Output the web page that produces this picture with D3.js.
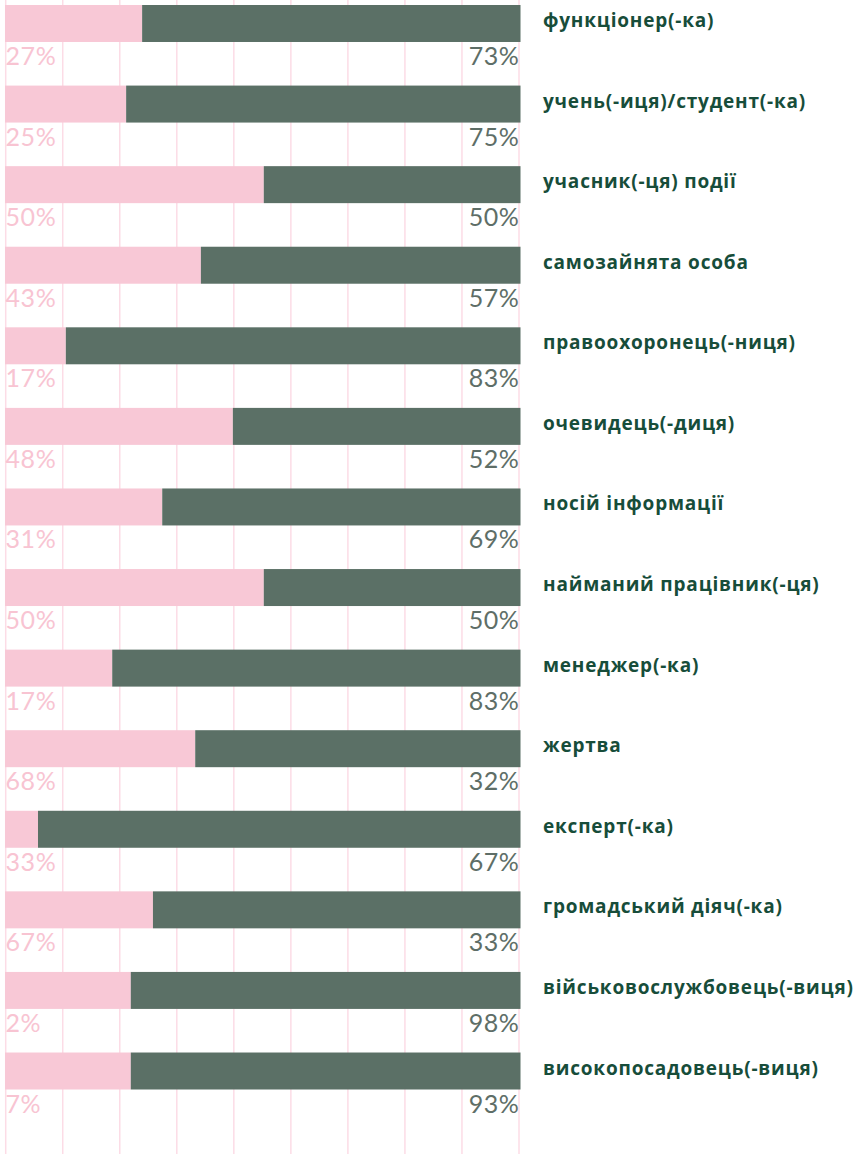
<!DOCTYPE html>
<html>
<head>
<meta charset="utf-8">
<script src="https://cdn.jsdelivr.net/npm/d3@7"></script>
<style>
  html, body { margin: 0; padding: 0; background: #fff; }
  svg { display: block; }
</style>
</head>
<body>
<div id="chart"></div>
<script>
// categories, top to bottom
const categories = [
  "функціонер(-ка)",
  "учень(-иця)/студент(-ка)",
  "учасник(-ця) події",
  "самозайнята особа",
  "правоохоронець(-ниця)",
  "очевидець(-диця)",
  "носій інформації",
  "найманий працівник(-ця)",
  "менеджер(-ка)",
  "жертва",
  "експерт(-ка)",
  "громадський діяч(-ка)",
  "військовослужбовець(-виця)",
  "високопосадовець(-виця)"
];
// pink share of each bar as drawn (percent)
const pinkBar   = [26.6, 23.5, 50.2, 38.0, 11.8, 44.2, 30.5, 50.2, 20.8, 36.9, 6.4, 28.7, 24.4, 24.4];
// labels printed under the bars
const pinkLabels  = ["27%", "25%", "50%", "43%", "17%", "48%", "31%", "50%", "17%", "68%", "33%", "67%", "2%", "7%"];
const greenLabels = ["73%", "75%", "50%", "57%", "83%", "52%", "69%", "50%", "83%", "32%", "67%", "33%", "98%", "93%"];
const gridTicks = d3.range(0, 10);

const width  = 860;
const height = 1154;
const pink   = "#f8c8d6";
const green  = "#5b7066";

const x = d3.scaleLinear().domain([0, 100]).range([5, 520.5]);
const xGrid = d3.scaleLinear().domain([0, 9]).range([5.7, 519]);
const y = d3.scaleBand()
  .domain(categories)
  .range([5, 1089.5])
  .paddingInner(0.541)
  .paddingOuter(0);

const svg = d3.select("#chart").append("svg")
  .attr("width", width)
  .attr("height", height);

svg.append("g").selectAll("line")
  .data(gridTicks)
  .enter().append("line")
  .attr("x1", d => xGrid(d))
  .attr("x2", d => xGrid(d))
  .attr("y1", 0)
  .attr("y2", height)
  .attr("stroke", "#fcdce6")
  .attr("stroke-width", 1.5);

const rows = svg.append("g").selectAll("g")
  .data(categories)
  .enter().append("g");

rows.append("rect")
  .attr("x", x(0))
  .attr("y", d => y(d))
  .attr("width", (d, i) => x(pinkBar[i]) - x(0))
  .attr("height", y.bandwidth())
  .attr("fill", pink);

rows.append("rect")
  .attr("x", (d, i) => x(pinkBar[i]))
  .attr("y", d => y(d))
  .attr("width", (d, i) => x(100) - x(pinkBar[i]))
  .attr("height", y.bandwidth())
  .attr("fill", green);

rows.append("text")
  .attr("x", x(0) + 0.5)
  .attr("y", d => y(d) + y.bandwidth() + 23)
  .attr("font-family", "Lato, sans-serif")
  .attr("font-weight", 400)
  .attr("font-size", 25)
  .attr("letter-spacing", 0.6)
  .attr("fill", "#f8c4d2")
  .text((d, i) => pinkLabels[i]);

rows.append("text")
  .attr("x", x(100) - 1)
  .attr("y", d => y(d) + y.bandwidth() + 23)
  .attr("text-anchor", "end")
  .attr("font-family", "Lato, sans-serif")
  .attr("font-weight", 400)
  .attr("font-size", 25)
  .attr("letter-spacing", 0.6)
  .attr("fill", "#5e6e67")
  .text((d, i) => greenLabels[i]);

rows.append("text")
  .attr("x", 543)
  .attr("y", d => y(d) + 22)
  .attr("font-family", "'Open Sans', sans-serif")
  .attr("font-weight", 700)
  .attr("font-size", 19)
  .attr("letter-spacing", 0.8)
  .attr("fill", "#174d3a")
  .text(d => d);
</script>
</body>
</html>
